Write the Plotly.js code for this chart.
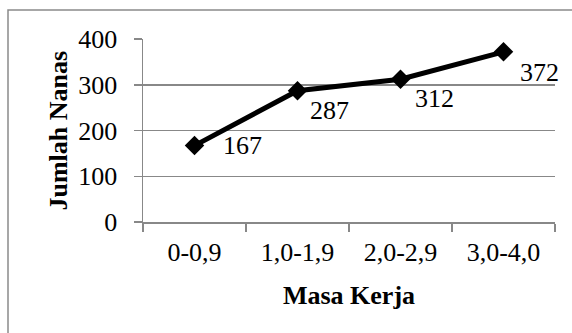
<!DOCTYPE html>
<html>
<head>
<meta charset="utf-8">
<script src="https://cdn.plot.ly/plotly-3.0.1.min.js"></script>
<style>
html,body{margin:0;padding:0;background:#fff;}
#chart{width:572px;height:333px;}
</style>
</head>
<body>
<div id="chart"></div>
<script>
var categories = ["0-0,9", "1,0-1,9", "2,0-2,9", "3,0-4,0"];
var values = [167, 287, 312, 372];
var yTicks = [0, 100, 200, 300, 400];
var labelShiftX = [26, 10, 12, 14];
var labelShiftY = [0, -20, -19, -21];
var xTitle = "Masa Kerja";
var yTitle = "Jumlah Nanas";

var FONT = "Liberation Serif, Times New Roman, serif";
var GRID = "#888888";
var FS = 26;

var trace = {
  x: categories,
  y: values,
  type: "scatter",
  mode: "lines+markers",
  line: {color: "#000000", width: 5},
  marker: {symbol: "diamond", size: 15, color: "#000000"},
  hoverinfo: "none"
};

var annotations = categories.map(function (c, i) {
  return {
    x: c, y: values[i], xref: "x", yref: "y",
    text: String(values[i]), showarrow: false,
    xanchor: "left", yanchor: "middle",
    xshift: labelShiftX[i], yshift: labelShiftY[i],
    font: {family: FONT, size: FS, color: "#000000"}
  };
});
annotations.push({
  x: (58 - 143) / 412, y: 0.5, xref: "paper", yref: "paper",
  text: "<b>" + yTitle + "</b>", textangle: -90, showarrow: false,
  xanchor: "center", yanchor: "middle",
  font: {family: FONT, size: FS, color: "#000000"}
});

var layout = {
  width: 572, height: 333,
  margin: {l: 143, r: 17, t: 39, b: 111},
  paper_bgcolor: "#ffffff",
  plot_bgcolor: "#ffffff",
  showlegend: false,
  font: {family: FONT, size: FS, color: "#000000"},
  xaxis: {
    type: "category",
    range: [-0.5, categories.length - 0.5],
    tickson: "boundaries",
    ticks: "outside", ticklen: 8, tickcolor: GRID, tickwidth: 1.5,
    ticklabelstandoff: 6,
    showline: true, linecolor: GRID, linewidth: 1.5,
    showgrid: false, zeroline: false,
    tickfont: {family: FONT, size: FS, color: "#000000"},
    title: {text: "<b>" + xTitle + "</b>", font: {family: FONT, size: FS, color: "#000000"}, standoff: 20}
  },
  yaxis: {
    range: [0, 400],
    tickvals: yTicks,
    ticktext: yTicks.map(String),
    ticks: "outside", ticklen: 8, tickcolor: GRID, tickwidth: 1.5,
    ticklabelstandoff: 11,
    showline: true, linecolor: GRID, linewidth: 1.5,
    showgrid: true, gridcolor: GRID, gridwidth: 1.5,
    zeroline: false,
    tickfont: {family: FONT, size: FS, color: "#000000"}
  },
  annotations: annotations,
  shapes: [{
    type: "rect", xref: "paper", yref: "paper",
    x0: (8 - 143) / 412, x1: (580 - 143) / 412,
    y0: 1 - (345 - 39) / 183, y1: 1 + (39 - 10) / 183,
    line: {color: "#8a8a8a", width: 1.5},
    fillcolor: "rgba(0,0,0,0)", layer: "below"
  }]
};

Plotly.newPlot("chart", [trace], layout, {displayModeBar: false, staticPlot: true});
</script>
</body>
</html>
